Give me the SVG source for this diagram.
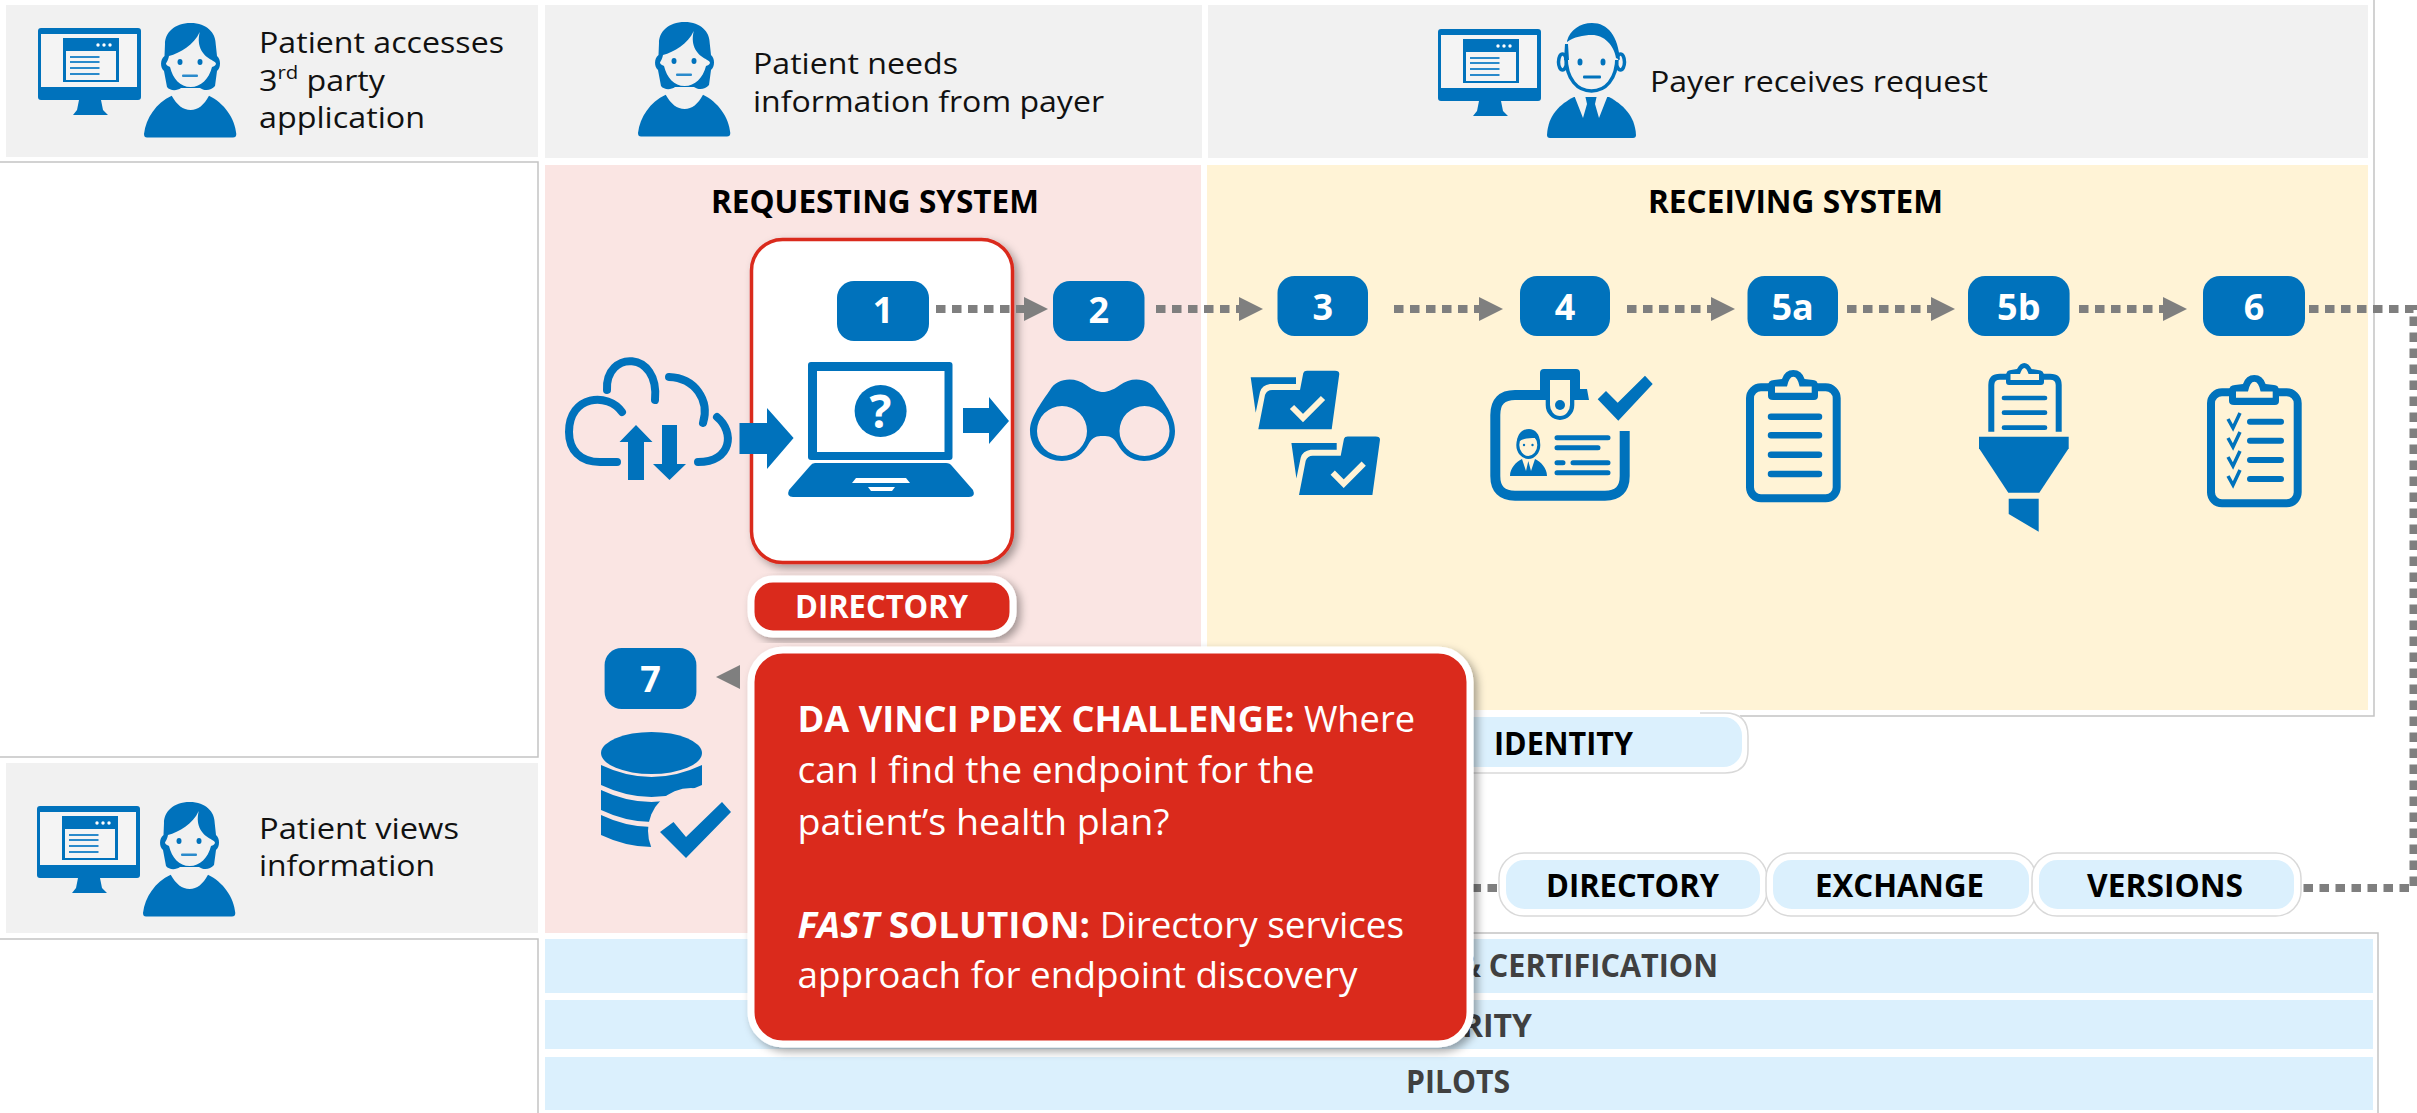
<svg xmlns="http://www.w3.org/2000/svg" xmlns:xlink="http://www.w3.org/1999/xlink" width="2417" height="1113" viewBox="0 0 2417 1113">
<style>
text{font-family:"Open Sans","Noto Sans","Liberation Sans",sans-serif}
.lab{font-size:30px;fill:#111}
.b{font-weight:700}
.head{font-size:32px;font-weight:700;fill:#000}
.badge{fill:#0072bc}
.num{font-size:36px;font-weight:700;fill:#fff;text-anchor:middle}
.ic{fill:#0072bc}
.pill{fill:#dbf0fd;stroke:#fff;stroke-width:7}
.pillo{fill:none;stroke:#d9d9d9;stroke-width:1.5}
.pt{font-size:32px;font-weight:700;fill:#000}
.bar{fill:#dbf0fd}
.bt{font-size:32px;font-weight:700;fill:#404040}
.ct{font-size:36px;fill:#fff}
.dot{fill:none;stroke:#7f7f7f;stroke-width:8;stroke-dasharray:9.5 6.5}
.thin{fill:none;stroke:#c4c4c4;stroke-width:1.5}
.ln{stroke:#0072bc;stroke-linecap:round;fill:none}
</style>
<defs>
<filter id="sh" x="-10%" y="-10%" width="125%" height="125%"><feDropShadow dx="4" dy="4" stdDeviation="4" flood-color="#000" flood-opacity="0.35"/></filter>
<marker id="ah" markerUnits="userSpaceOnUse" markerWidth="24" markerHeight="24" refX="0" refY="12" orient="auto"><path d="M0 0L24 12L0 24Z" fill="#7f7f7f"/></marker>
<g id="monitor">
<rect width="103" height="72" rx="3" class="ic"/>
<rect x="3" y="6" width="96" height="53" fill="#f4f4f4"/>
<rect x="25" y="10" width="56" height="44" class="ic"/>
<rect x="28" y="23" width="50" height="29" fill="#f4f4f4"/>
<circle cx="60" cy="17" r="1.7" fill="#fff"/><circle cx="66" cy="17" r="1.7" fill="#fff"/><circle cx="72" cy="17" r="1.7" fill="#fff"/>
<path d="M32 29H61.500M32 34H61.500M32 40H61.500M32 46H61.500" stroke="#2a8acb" stroke-width="2" fill="none"/>
<path d="M41 72H63L65 82L70 87H35L39 82Z" class="ic"/>
</g>
<g id="woman">
<path class="ic" d="M46.700 0C30 0 21 10 21 21L20.500 33C16 36 16 45 20 48L23 64C26 68 33 68 37 65L56 65C60 68 67 68 71 63L73 48C77 45 77 36 73 33L71.700 21C71.700 10 63 0 46.700 0Z"/>
<path fill="#f1f1f1" d="M55.700 9C50 22 36 30 25 33C24 38 22 40 22 41C23 43 25 43 26 44C29 56 36 64 46.700 64C57 64 65 56 68 44C70 43 71 43 72 41C72 39 69 38 67.700 37C60 33 52 25 55.700 9Z"/>
<ellipse cx="36" cy="39" rx="2.500" ry="3" class="ic"/><ellipse cx="56" cy="39" rx="2.500" ry="3" class="ic"/>
<rect x="38" y="51.500" width="16" height="2.500" rx="1" fill="#2a8acb"/>
<path class="ic" d="M27.700 72.700C33 82 39 87 46.700 87C54 87 60 82 65 72.700C80 80 91 95 92.300 111Q92.300 114.500 89 114.500H3Q0 114.500 0 111C2 95 12 80 27.700 72.700Z"/>
</g>
<g id="folder">
<path class="ic" d="M10.700 17.300H56V24H30Q22 25 20 32L15.700 52.700Z"/>
<path class="ic" d="M60 30L63.300 13Q64 10.700 67 10.700H95Q99.300 10.700 99.300 14L91.700 69.300H18.300L25 35Q27 30 32 30Z"/>
<path d="M52 47L63 58L83 38" fill="none" stroke="#fff3d6" stroke-width="6"/>
</g>
<g id="clip-frame">
<rect x="1750" y="387.300" width="86.700" height="111" rx="11" fill="none" stroke="#0072bc" stroke-width="8"/>
<path class="ic" d="M1768 386Q1768 380 1774 380L1782 379Q1785 370 1793.300 370Q1801.600 370 1804.600 379L1813 380Q1818 380 1818 386V396Q1818 400 1814 400H1773Q1768 400 1768 396Z"/>
<path fill="#fff3d6" d="M1775 392.700V386.500H1787Q1789 376.700 1793.300 376.700Q1797.600 376.700 1799.600 386.500H1811.700V392.700Z"/>
</g>
</defs>

<g id="panels">
<rect x="6" y="5" width="532" height="152" fill="#f1f1f1"/>
<rect x="545" y="5" width="657" height="153" fill="#f1f1f1"/>
<rect x="1208" y="5" width="1160" height="153" fill="#f1f1f1"/>
<rect x="6" y="763" width="532" height="170" fill="#f1f1f1"/>
<rect x="545" y="165" width="656" height="768" fill="#fae5e3"/>
<rect x="1207" y="165" width="1161" height="545" fill="#fff3d6"/>
<path class="thin" d="M0 162H538V757H0M0 939H538V1113M2374 0V716H1740M1470 933H2378V1113"/>
<rect class="bar" x="545" y="939" width="1828" height="54"/>
<rect class="bar" x="545" y="1000" width="1828" height="49"/>
<rect class="bar" x="545" y="1057" width="1828" height="53"/>
<text class="bt" x="1458" y="977" textLength="260" lengthAdjust="spacingAndGlyphs">&amp; CERTIFICATION</text>
<text class="bt" x="1462" y="1037" textLength="70" lengthAdjust="spacingAndGlyphs">RITY</text>
<text class="bt" x="1406" y="1093" textLength="104" lengthAdjust="spacingAndGlyphs">PILOTS</text>
<text class="head" x="711" y="213" textLength="328" lengthAdjust="spacingAndGlyphs">REQUESTING SYSTEM</text>
<text class="head" x="1648" y="213" textLength="295" lengthAdjust="spacingAndGlyphs">RECEIVING SYSTEM</text>
</g>

<g id="actor-patient-app">
<use href="#monitor" x="38" y="28"/><use href="#woman" x="144" y="23"/>
<text class="lab" x="259" y="53" textLength="245" lengthAdjust="spacingAndGlyphs">Patient accesses</text>
<text class="lab" x="259" y="91" textLength="126" lengthAdjust="spacingAndGlyphs">3<tspan font-size="19" dy="-12">rd</tspan><tspan dy="12"> party</tspan></text>
<text class="lab" x="259" y="128" textLength="166" lengthAdjust="spacingAndGlyphs">application</text>
</g>
<g id="actor-patient-needs">
<use href="#woman" x="638" y="22"/>
<text class="lab" x="753" y="74" textLength="205" lengthAdjust="spacingAndGlyphs">Patient needs</text>
<text class="lab" x="753" y="112" textLength="351" lengthAdjust="spacingAndGlyphs">information from payer</text>
</g>
<g id="actor-payer">
<use href="#monitor" x="1438" y="29"/>
<path class="ic" d="M1547 135C1548 115 1560 104 1574 97H1609C1622 104 1635 115 1636 135Q1636 138 1633 138H1550Q1547 138 1547 135Z"/>
<path fill="#f1f1f1" d="M1574 95H1585L1587 104L1583 118ZM1608 95H1597L1595 104L1599 118Z"/>
<ellipse cx="1562.500" cy="62" rx="4" ry="8" fill="#f1f1f1" stroke="#0072bc" stroke-width="3.500"/>
<ellipse cx="1620.500" cy="62" rx="4" ry="8" fill="#f1f1f1" stroke="#0072bc" stroke-width="3.500"/>
<path d="M1566 56C1566 80 1578 91 1591.500 91C1605 91 1617 80 1617 56" fill="#f1f1f1" stroke="#0072bc" stroke-width="3.500"/>
<path fill="#f1f1f1" d="M1567 42H1618V60H1567Z"/>
<path class="ic" d="M1567 41C1570 30 1580 23 1592 23C1608 23 1618 36 1620 60L1616 58C1614 45 1604 35 1592 35C1583 35 1574 37 1567 42Z"/>
<path class="ic" d="M1565 44L1568 44L1569 60L1564 60Z"/>
<ellipse cx="1580" cy="62" rx="2.500" ry="3.500" class="ic"/><ellipse cx="1603" cy="62" rx="2.500" ry="3.500" class="ic"/>
<rect x="1583" y="75.500" width="18" height="3" rx="1" class="ic"/>
<text class="lab" x="1650" y="92" textLength="338" lengthAdjust="spacingAndGlyphs">Payer receives request</text>
</g>
<g id="actor-patient-views">
<use href="#monitor" x="37" y="806"/><use href="#woman" x="143" y="802"/>
<text class="lab" x="259" y="839" textLength="200" lengthAdjust="spacingAndGlyphs">Patient views</text>
<text class="lab" x="259" y="876" textLength="176" lengthAdjust="spacingAndGlyphs">information</text>
</g>

<g id="node-cloud">
<path fill="none" stroke="#0072bc" stroke-width="8" stroke-linecap="round" d="M622 412C608 392 569 395 569 432C569 450 580 462 600 462H617M607 390C605 350 660 350 655 400M669 377C695 378 710 400 703 423M717 417C735 432 732 462 698 462"/>
<path class="ic" d="M628 480V442H619.500L636 425L652.500 442H644V480ZM662 425H677V464H686L669.500 480L653 464H662Z"/>
</g>

<g id="node-1">
<rect x="751.500" y="239.500" width="261" height="323" rx="31" fill="#fff" stroke="#da291c" stroke-width="3.500" filter="url(#sh)"/>
<rect class="badge" x="837" y="281" width="92" height="60" rx="17"/>
<text class="num" x="883" y="323">1</text>
<path class="ic" d="M811 362H949.500Q952.500 362 952.500 365V457Q952.500 460 949.500 460H811Q808 460 808 457V365Q808 362 811 362Z"/>
<rect x="817" y="371" width="127.500" height="81" fill="#fff"/>
<circle cx="880.600" cy="411" r="26" class="ic"/>
<text x="880.600" y="428" font-size="46" font-weight="700" fill="#fff" text-anchor="middle">?</text>
<path class="ic" d="M815 463H946Q950 463 952 466L973 490Q976 497 969 497H793Q786 497 789 490L810 466Q812 463 815 463Z"/>
<path fill="#fff" d="M856 478H906L910 483H852ZM868 487H895L892 491H871Z"/>
<path class="ic" d="M963 408H989V397L1009 421L989 444V433H963Z"/>
</g>
<path id="arrow-in" class="ic" d="M739.500 423H767V408L793.600 438L767 469V454H739.500Z"/>
<g id="node-2">
<rect class="badge" x="1053" y="281" width="91.500" height="60" rx="17"/>
<text class="num" x="1098.700" y="323">2</text>
<path class="ic" fill-rule="evenodd" d="M1030 431C1030 420 1036 410 1050 390C1056 378 1075 376 1086 385C1094 391 1100 392 1103 392C1106 392 1112 391 1120 385C1131 376 1150 378 1156 390C1170 410 1175 420 1175 431C1175 450 1160 461 1144 461C1130 461 1122 452 1118 445C1113 436 1109 436 1103 436C1097 436 1093 436 1088 445C1084 452 1076 461 1062 461C1046 461 1030 450 1030 431ZM1037 431A25 25 0 1 0 1087 431A25 25 0 1 0 1037 431ZM1119.500 431A25 25 0 1 0 1169.500 431A25 25 0 1 0 1119.500 431Z"/>
</g>
<g id="node-3">
<rect class="badge" x="1277.500" y="276" width="90.500" height="60" rx="17"/>
<text class="num" x="1322.700" y="320">3</text>
<use href="#folder" x="1240" y="360"/><use href="#folder" x="1280.700" y="425.700"/>
</g>
<g id="node-4">
<rect class="badge" x="1520" y="276" width="90" height="60" rx="17"/>
<text class="num" x="1565" y="320">4</text>
<path fill="none" stroke="#0072bc" stroke-width="10" d="M1624.700 431V476Q1624.700 495.700 1605 495.700H1515Q1495.300 495.700 1495.300 476V415Q1495.300 395 1515 395H1580"/>
<path class="ic" d="M1540 400V373Q1540 369 1544 369H1576Q1580 369 1580 373V389H1587L1589 400H1574.300V405A14.300 15 0 0 1 1545.700 405V400Z"/>
<path fill="#fff3d6" d="M1550 380H1570V405A10 11 0 0 1 1550 405Z"/>
<circle cx="1560" cy="405" r="5" class="ic"/>
<path class="ic" d="M1597.700 399.300L1606 391L1617.700 402.700L1645 375.700L1652.700 384L1618.300 420.700Z"/>
<ellipse cx="1528.300" cy="445" rx="10.500" ry="12.500" fill="#fff3d6" stroke="#0072bc" stroke-width="3"/>
<path class="ic" d="M1517 441C1518 432 1524 429 1529 429C1535 429 1540 434 1540 443L1535 438C1530 438 1524 438 1520 441Z"/>
<circle cx="1524" cy="445" r="1.200" class="ic"/><circle cx="1532.500" cy="445" r="1.200" class="ic"/>
<path class="ic" d="M1510 476C1510 468 1516 462 1522 459L1526 471L1528.300 461L1531 471L1535 459C1541 462 1547 468 1547 476Z"/>
<path class="ln" stroke-width="5" d="M1557 437.700H1608M1557 447.700H1598M1557 462.700H1563M1573 462.700H1608M1557 472.700H1608"/>
</g>
<g id="node-5a">
<rect class="badge" x="1747.500" y="276" width="90.500" height="60" rx="17"/>
<text class="num" x="1792.700" y="320">5a</text>
<use href="#clip-frame"/>
<path class="ln" stroke-width="6.500" d="M1771 416.700H1819M1771 435.300H1819M1771 454.700H1819M1771 474H1819"/>
</g>
<g id="node-5b">
<rect class="badge" x="1968" y="276" width="101.600" height="60" rx="17"/>
<text class="num" x="2018.800" y="320">5b</text>
<path fill="none" stroke="#0072bc" stroke-width="6" d="M1991.300 431.700V385Q1991.300 376.700 2000 376.700H2050Q2058.700 376.700 2058.700 385V431.700"/>
<path class="ic" d="M2006 376Q2006 370 2011 370L2017 369Q2020 363 2024.300 363Q2028.600 363 2031.600 369L2038 370Q2044 370 2044 376V382Q2044 385 2041 385H2009Q2006 385 2006 382Z"/>
<path fill="#fff3d6" d="M2010.500 380V374H2020Q2022 368 2024.300 368Q2026.600 368 2028.600 374H2039V380Z"/>
<path class="ln" stroke-width="4.700" d="M2004 398H2045M2004 412.700H2045M2004 427.700H2045"/>
<path class="ic" d="M1979 436.700H2068.700V448.300L2039.300 492.700H2008.300L1979 448.300Z"/>
<path class="ic" d="M2008.700 498.700H2038.700V531.700L2008.700 514Z"/>
</g>
<g id="node-6">
<rect class="badge" x="2203" y="276" width="102" height="60" rx="17"/>
<text class="num" x="2254" y="320">6</text>
<use href="#clip-frame" x="461" y="5"/>
<path class="ln" stroke-width="6" d="M2250 421.700H2281M2250 440.700H2281M2250 460H2281M2250 479H2281"/>
<path fill="none" stroke="#0072bc" stroke-width="3.500" d="M2228 419L2233 428L2240 413M2228 438L2233 447L2240 432M2228 457L2233 466L2240 451M2228 476L2233 485L2240 470"/>
</g>
<g id="node-7">
<rect class="badge" x="604.600" y="648" width="91.800" height="61" rx="17"/>
<text class="num" x="650.500" y="692">7</text>
<ellipse cx="651.500" cy="753" rx="50.500" ry="21" class="ic"/>
<path class="ic" d="M601 765Q651.500 789 702 765V785Q651.500 809 601 785ZM601 790Q651.500 814 702 790V810Q651.500 834 601 810ZM601 815Q651.500 839 702 815V835Q651.500 859 601 835Z"/>
<circle cx="691" cy="831" r="43" fill="#fae5e3"/>
<path class="ic" d="M660 832L673.500 822L686 837L722 802L731 812L686 858Z"/>
</g>

<g id="connectors">
<path class="dot" d="M936 309H1024" marker-end="url(#ah)"/>
<path class="dot" d="M1156 309H1239" marker-end="url(#ah)"/>
<path class="dot" d="M1394 309H1479" marker-end="url(#ah)"/>
<path class="dot" d="M1627 309H1711" marker-end="url(#ah)"/>
<path class="dot" d="M1847 309H1931" marker-end="url(#ah)"/>
<path class="dot" d="M2079 309H2163" marker-end="url(#ah)"/>
<path class="dot" d="M2309 309H2413.500V888H1470"/>
<path fill="none" d="M760 677H740" marker-end="url(#ah)"/>
</g>

<g id="node-identity">
<rect class="pill" x="1180" y="713.500" width="565.500" height="57" rx="22"/>
<path class="pillo" d="M1700 713H1725Q1748 713 1748 736V750Q1748 773 1725 773H1470"/>
<text class="pt" x="1494" y="755" textLength="139" lengthAdjust="spacingAndGlyphs">IDENTITY</text>
</g>
<g id="node-directory-b">
<rect class="pill" x="1502.500" y="856.500" width="261" height="56" rx="22"/>
<rect class="pillo" x="1499" y="853" width="268" height="63" rx="25"/>
<text class="pt" x="1546" y="897" textLength="173" lengthAdjust="spacingAndGlyphs">DIRECTORY</text>
</g>
<g id="node-exchange">
<rect class="pill" x="1769.500" y="856.500" width="263" height="56" rx="22"/>
<rect class="pillo" x="1766" y="853" width="270" height="63" rx="25"/>
<text class="pt" x="1815" y="897" textLength="169" lengthAdjust="spacingAndGlyphs">EXCHANGE</text>
</g>
<g id="node-versions">
<rect class="pill" x="2035.500" y="856.500" width="262" height="56" rx="22"/>
<rect class="pillo" x="2032" y="853" width="269" height="63" rx="25"/>
<text class="pt" x="2087" y="897" textLength="156" lengthAdjust="spacingAndGlyphs">VERSIONS</text>
</g>
<g id="node-directory">
<rect x="751" y="579" width="262" height="55" rx="22" fill="#da291c" stroke="#fff" stroke-width="7" filter="url(#sh)"/>
<text x="795" y="618" font-size="32" font-weight="700" fill="#fff" textLength="173" lengthAdjust="spacingAndGlyphs">DIRECTORY</text>
</g>
<g id="callout">
<rect x="751" y="650" width="719" height="394" rx="32" fill="#da291c" stroke="#fff" stroke-width="7" filter="url(#sh)"/>
<text class="ct" x="797.500" y="732" textLength="617.500" lengthAdjust="spacingAndGlyphs"><tspan class="b">DA VINCI PDEX CHALLENGE:</tspan> Where</text>
<text class="ct" x="797.500" y="783" textLength="517" lengthAdjust="spacingAndGlyphs">can I find the endpoint for the</text>
<text class="ct" x="797.500" y="835" textLength="372" lengthAdjust="spacingAndGlyphs">patient’s health plan?</text>
<text class="ct" x="797.500" y="938" textLength="606.500" lengthAdjust="spacingAndGlyphs"><tspan class="b" font-style="italic">FAST</tspan><tspan class="b"> SOLUTION:</tspan> Directory services</text>
<text class="ct" x="797.500" y="988" textLength="560" lengthAdjust="spacingAndGlyphs">approach for endpoint discovery</text>
</g>
</svg>
